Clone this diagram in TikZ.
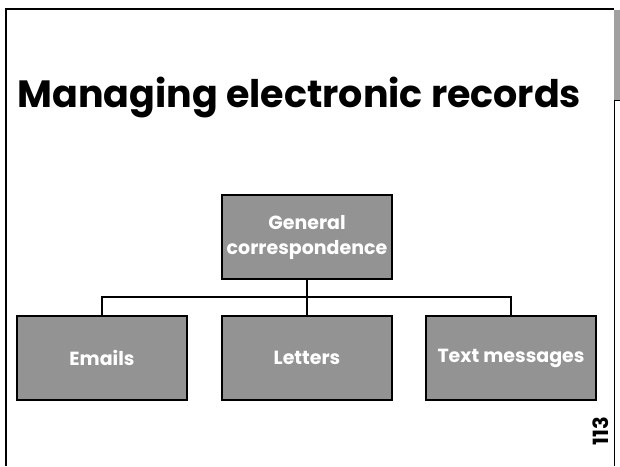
\documentclass[tikz,border=0pt]{standalone}
\usepackage{fontspec}
\setmainfont{Poppins}
\usepackage{tikz}
\usetikzlibrary{positioning}

\definecolor{boxgray}{RGB}{147,147,147}
\definecolor{bargray}{RGB}{160,160,160}

\begin{document}
\begin{tikzpicture}
  [x=1pt,y=-1pt,
   every node/.style={draw=black,line width=1.3pt,fill=boxgray,text=white,
     font=\fontsize{19}{25}\selectfont\bfseries,align=center,inner sep=0pt,
     minimum width=170pt,minimum height=84pt}]
  \useasboundingbox (0,0) rectangle (620,466);
  % slide frame
  \draw[line width=2pt] (5,9) -- (614,9);
  \draw[line width=2pt] (6,8) -- (6,466);
  \fill[bargray] (614,10) rectangle (620,100);
  \draw[line width=.6pt] (620,100) -- (614,100) -- (614,466);
  \node[draw=none,fill=none,text=black,minimum width=0pt,minimum height=0pt,
    anchor=base west,font=\fontsize{38}{40}\selectfont\bfseries] (title)
    at (17,107) {Managing electronic records};
  \node[draw=none,fill=none,text=black,minimum width=0pt,minimum height=0pt,
    rotate=90,font=\fontsize{21}{22}\selectfont\bfseries] (page) at (601,431) {113};
  % chart
  \node (gc) at (307,237) {General\\correspondence};
  \node (emails) at (102,358) {Emails};
  \node (letters) at (307,358) {Letters};
  \node (texts) at (511,358) {Text messages};
  \coordinate (bar) at (307,297);
  \foreach \to in {emails,letters,texts}
    \draw[line width=1.3pt] (gc.south) -- (gc.south |- bar) -| (\to.north);
\end{tikzpicture}
\end{document}
